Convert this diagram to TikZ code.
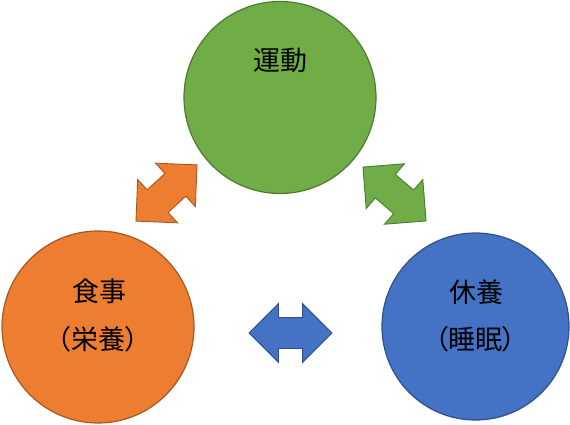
\documentclass[tikz,border=0pt]{standalone}
\usepackage{fontspec}
\usepackage{tikz}
\usetikzlibrary{shapes.arrows, positioning}
\newfontfamily\jpfont[RawFeature=+palt]{Noto Sans CJK JP}
\definecolor{sportgreen}{RGB}{112, 173, 71}
\definecolor{foodorange}{RGB}{237, 125, 49}
\definecolor{restblue}{RGB}{68, 114, 196}

\begin{document}
\begin{tikzpicture}[x=1pt, y=-1pt,
  ball/.style={circle, draw=#1!70!black, fill=#1, line width=1.2pt, minimum size=192pt, inner sep=0pt},
  dblarrow/.style={double arrow, draw=#1!70!black, fill=#1, line width=0.9pt, double arrow head extend=14pt,
    inner xsep=0pt, inner ysep=15pt, minimum width=0pt, minimum height=83pt},
  lbl/.style={font=\jpfont\fontsize{27}{32}\selectfont, text=black, inner sep=0pt}]
  \useasboundingbox (0, 0) rectangle (570, 425);

  % Circles
  \node[ball=sportgreen] (undo) at (280, 97.5) {};
  \node[ball=foodorange] (shokuji) at (98, 327) {};
  \node[ball=restblue, minimum size=187pt] (kyuyo) at (475.5, 326.5) {};

  % Labels
  \node[lbl] (undolbl) at (280, 60) {運動};
  \node[lbl] (shokujilbl) at (99, 291) {食事};
  \node[lbl] (eiyolbl) at (98, 339) {（栄養）};
  \node[lbl] (kyuyolbl) at (476, 292) {休養};
  \node[lbl] (suiminlbl) at (475.5, 339) {（睡眠）};

  % Double arrows
  \node[dblarrow=foodorange, rotate=42.6] (arrowfood) at (166.5, 193) {};
  \node[dblarrow=sportgreen, rotate=-40.5] (arrowsport) at (394.5, 194) {};
  \node[dblarrow=restblue] (arrowrest) at (290.5, 333) {};
\end{tikzpicture}
\end{document}
